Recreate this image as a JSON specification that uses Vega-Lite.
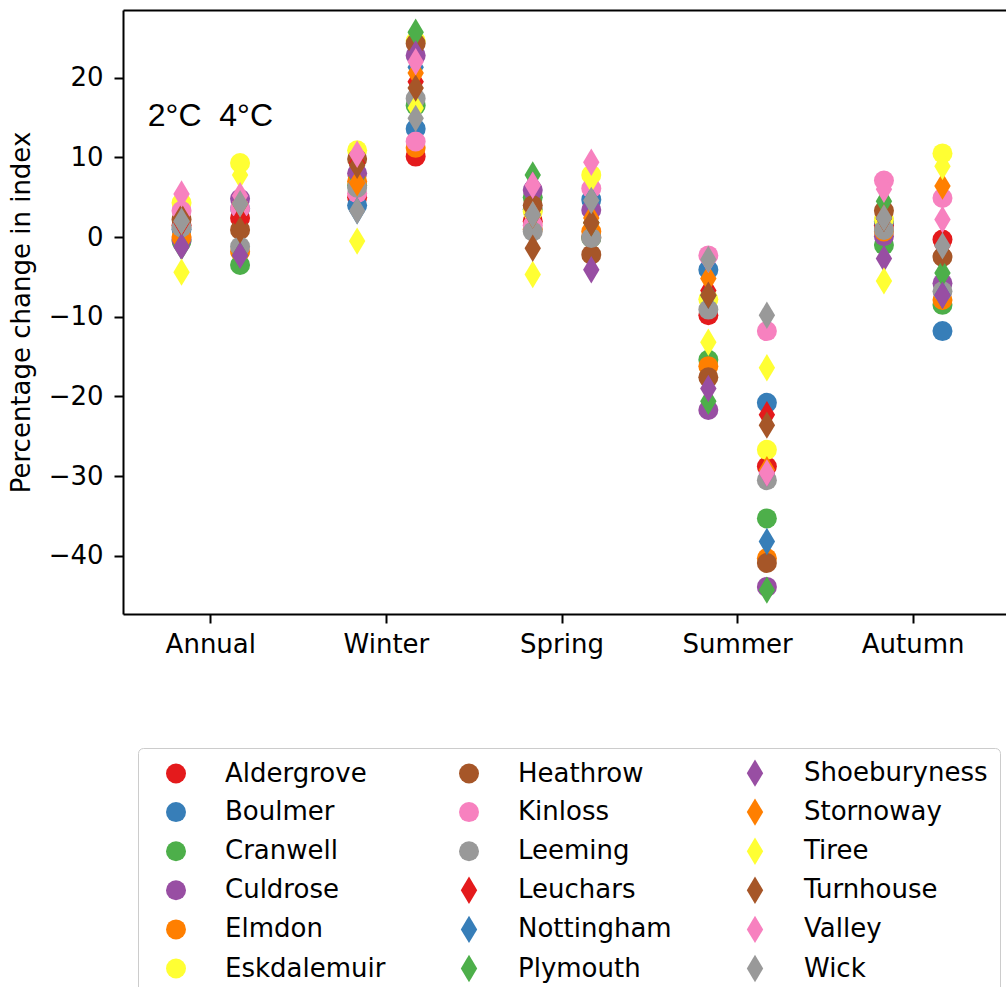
{
  "$schema": "https://vega.github.io/schema/vega-lite/v6.json",
  "width": 883,
  "height": 604,
  "autosize": {"type": "none"},
  "padding": {"left": 123, "top": 10, "right": 0, "bottom": 373},
  "background": "white",
  "config": {
    "view": {"stroke": null},
    "font": "DejaVu Sans",
    "axis": {
      "grid": false,
      "domainColor": "black",
      "domainWidth": 2,
      "tickColor": "black",
      "tickWidth": 2,
      "tickSize": 9,
      "labelFont": "DejaVu Sans",
      "labelFontSize": 26,
      "labelColor": "black",
      "titleFont": "DejaVu Sans",
      "titleFontSize": 26,
      "titleFontWeight": "normal",
      "titleColor": "black"
    }
  },
  "layer": [
    {
      "data": {
        "values": [
          {"st": "Aldergrove", "se": "Annual", "2°C": 1.5, "4°C": 2.4},
          {"st": "Aldergrove", "se": "Winter", "2°C": 5.0, "4°C": 10.1},
          {"st": "Aldergrove", "se": "Spring", "2°C": 2.0, "4°C": 0.0},
          {"st": "Aldergrove", "se": "Summer", "2°C": -9.8, "4°C": -28.8},
          {"st": "Aldergrove", "se": "Autumn", "2°C": 1.5, "4°C": -0.3},
          {"st": "Boulmer", "se": "Annual", "2°C": 1.0, "4°C": 3.6},
          {"st": "Boulmer", "se": "Winter", "2°C": 4.0, "4°C": 13.6},
          {"st": "Boulmer", "se": "Spring", "2°C": 3.5, "4°C": 4.7},
          {"st": "Boulmer", "se": "Summer", "2°C": -4.1, "4°C": -20.8},
          {"st": "Boulmer", "se": "Autumn", "2°C": 2.0, "4°C": -11.8},
          {"st": "Cranwell", "se": "Annual", "2°C": -0.5, "4°C": -3.5},
          {"st": "Cranwell", "se": "Winter", "2°C": 6.5, "4°C": 16.5},
          {"st": "Cranwell", "se": "Spring", "2°C": 5.0, "4°C": -0.1},
          {"st": "Cranwell", "se": "Summer", "2°C": -15.4, "4°C": -35.3},
          {"st": "Cranwell", "se": "Autumn", "2°C": -1.0, "4°C": -8.5},
          {"st": "Culdrose", "se": "Annual", "2°C": -0.3, "4°C": 4.8},
          {"st": "Culdrose", "se": "Winter", "2°C": 8.0, "4°C": 22.8},
          {"st": "Culdrose", "se": "Spring", "2°C": 5.9, "4°C": 3.4},
          {"st": "Culdrose", "se": "Summer", "2°C": -21.7, "4°C": -43.9},
          {"st": "Culdrose", "se": "Autumn", "2°C": 0.1, "4°C": -5.8},
          {"st": "Elmdon", "se": "Annual", "2°C": 0.0, "4°C": -1.8},
          {"st": "Elmdon", "se": "Winter", "2°C": 7.0, "4°C": 11.2},
          {"st": "Elmdon", "se": "Spring", "2°C": 1.0, "4°C": 0.7},
          {"st": "Elmdon", "se": "Summer", "2°C": -16.2, "4°C": -40.3},
          {"st": "Elmdon", "se": "Autumn", "2°C": 0.7, "4°C": -7.9},
          {"st": "Eskdalemuir", "se": "Annual", "2°C": 4.3, "4°C": 9.3},
          {"st": "Eskdalemuir", "se": "Winter", "2°C": 10.9, "4°C": 24.6},
          {"st": "Eskdalemuir", "se": "Spring", "2°C": 3.2, "4°C": 7.8},
          {"st": "Eskdalemuir", "se": "Summer", "2°C": -7.8, "4°C": -26.7},
          {"st": "Eskdalemuir", "se": "Autumn", "2°C": 2.2, "4°C": 10.5},
          {"st": "Heathrow", "se": "Annual", "2°C": 2.2, "4°C": 0.9},
          {"st": "Heathrow", "se": "Winter", "2°C": 9.8, "4°C": 24.3},
          {"st": "Heathrow", "se": "Spring", "2°C": 4.0, "4°C": -2.2},
          {"st": "Heathrow", "se": "Summer", "2°C": -17.6, "4°C": -40.9},
          {"st": "Heathrow", "se": "Autumn", "2°C": 3.3, "4°C": -2.5},
          {"st": "Kinloss", "se": "Annual", "2°C": 3.3, "4°C": 3.6},
          {"st": "Kinloss", "se": "Winter", "2°C": 5.5, "4°C": 12.0},
          {"st": "Kinloss", "se": "Spring", "2°C": 1.5, "4°C": 6.1},
          {"st": "Kinloss", "se": "Summer", "2°C": -2.3, "4°C": -11.8},
          {"st": "Kinloss", "se": "Autumn", "2°C": 7.1, "4°C": 4.9},
          {"st": "Leeming", "se": "Annual", "2°C": 1.2, "4°C": -1.2},
          {"st": "Leeming", "se": "Winter", "2°C": 6.2, "4°C": 17.4},
          {"st": "Leeming", "se": "Spring", "2°C": 0.7, "4°C": -0.1},
          {"st": "Leeming", "se": "Summer", "2°C": -9.1, "4°C": -30.5},
          {"st": "Leeming", "se": "Autumn", "2°C": 0.9, "4°C": -6.8},
          {"st": "Leuchars", "se": "Annual", "2°C": 1.8, "4°C": 2.2},
          {"st": "Leuchars", "se": "Winter", "2°C": 9.3, "4°C": 19.5},
          {"st": "Leuchars", "se": "Spring", "2°C": 2.8, "4°C": 1.8},
          {"st": "Leuchars", "se": "Summer", "2°C": -6.7, "4°C": -22.3},
          {"st": "Leuchars", "se": "Autumn", "2°C": 2.4, "4°C": -1.1},
          {"st": "Nottingham", "se": "Annual", "2°C": 2.0, "4°C": 4.2},
          {"st": "Nottingham", "se": "Winter", "2°C": 3.3, "4°C": 21.3},
          {"st": "Nottingham", "se": "Spring", "2°C": 2.8, "4°C": 4.6},
          {"st": "Nottingham", "se": "Summer", "2°C": -7.3, "4°C": -38.2},
          {"st": "Nottingham", "se": "Autumn", "2°C": 2.4, "4°C": -7.3},
          {"st": "Plymouth", "se": "Annual", "2°C": -1.2, "4°C": -2.3},
          {"st": "Plymouth", "se": "Winter", "2°C": 7.5, "4°C": 25.7},
          {"st": "Plymouth", "se": "Spring", "2°C": 7.8, "4°C": 1.8},
          {"st": "Plymouth", "se": "Summer", "2°C": -20.6, "4°C": -44.3},
          {"st": "Plymouth", "se": "Autumn", "2°C": 4.5, "4°C": -4.5},
          {"st": "Shoeburyness", "se": "Annual", "2°C": -1.2, "4°C": -2.3},
          {"st": "Shoeburyness", "se": "Winter", "2°C": 7.7, "4°C": 23.0},
          {"st": "Shoeburyness", "se": "Spring", "2°C": 6.5, "4°C": -4.1},
          {"st": "Shoeburyness", "se": "Summer", "2°C": -19.0, "4°C": -29.6},
          {"st": "Shoeburyness", "se": "Autumn", "2°C": -2.7, "4°C": -7.3},
          {"st": "Stornoway", "se": "Annual", "2°C": 2.0, "4°C": 4.2},
          {"st": "Stornoway", "se": "Winter", "2°C": 6.8, "4°C": 20.6},
          {"st": "Stornoway", "se": "Spring", "2°C": 2.8, "4°C": 2.4},
          {"st": "Stornoway", "se": "Summer", "2°C": -5.2, "4°C": -29.2},
          {"st": "Stornoway", "se": "Autumn", "2°C": 2.4, "4°C": 6.4},
          {"st": "Tiree", "se": "Annual", "2°C": -4.4, "4°C": 7.8},
          {"st": "Tiree", "se": "Winter", "2°C": -0.5, "4°C": 16.2},
          {"st": "Tiree", "se": "Spring", "2°C": -4.7, "4°C": 7.3},
          {"st": "Tiree", "se": "Summer", "2°C": -13.2, "4°C": -16.4},
          {"st": "Tiree", "se": "Autumn", "2°C": -5.5, "4°C": 8.9},
          {"st": "Turnhouse", "se": "Annual", "2°C": 2.5, "4°C": 0.9},
          {"st": "Turnhouse", "se": "Winter", "2°C": 9.0, "4°C": 18.7},
          {"st": "Turnhouse", "se": "Spring", "2°C": -1.4, "4°C": 1.8},
          {"st": "Turnhouse", "se": "Summer", "2°C": -7.3, "4°C": -23.6},
          {"st": "Turnhouse", "se": "Autumn", "2°C": 2.4, "4°C": -2.0},
          {"st": "Valley", "se": "Annual", "2°C": 5.4, "4°C": 5.2},
          {"st": "Valley", "se": "Winter", "2°C": 10.4, "4°C": 22.0},
          {"st": "Valley", "se": "Spring", "2°C": 6.5, "4°C": 9.4},
          {"st": "Valley", "se": "Summer", "2°C": -2.8, "4°C": -29.6},
          {"st": "Valley", "se": "Autumn", "2°C": 6.0, "4°C": 2.2},
          {"st": "Wick", "se": "Annual", "2°C": 2.0, "4°C": 4.2},
          {"st": "Wick", "se": "Winter", "2°C": 3.3, "4°C": 14.9},
          {"st": "Wick", "se": "Spring", "2°C": 2.8, "4°C": 4.6},
          {"st": "Wick", "se": "Summer", "2°C": -2.8, "4°C": -9.8},
          {"st": "Wick", "se": "Autumn", "2°C": 2.4, "4°C": -1.1}
        ]
      },
      "transform": [{"fold": ["2°C", "4°C"], "as": ["w", "v"]}],
      "mark": {"type": "point", "filled": true, "opacity": 1, "size": 400, "strokeWidth": 0},
      "encoding": {
        "x": {
          "field": "se",
          "type": "nominal",
          "sort": ["Annual", "Winter", "Spring", "Summer", "Autumn"],
          "scale": {"paddingInner": 0, "paddingOuter": 0.0142, "align": 0},
          "axis": {"title": null, "labelAngle": 0, "labelPadding": 8}
        },
        "xOffset": {
          "field": "w",
          "type": "nominal",
          "sort": ["2°C", "4°C"],
          "scale": {"type": "point", "padding": 1.157}
        },
        "y": {
          "field": "v",
          "type": "quantitative",
          "scale": {"domain": [-47.3, 28.5], "nice": false, "zero": false},
          "axis": {
            "values": [-40, -30, -20, -10, 0, 10, 20],
            "title": "Percentage change in index",
            "labelExpr": "replace(datum.label, '-', '−')",
            "labelPadding": 11,
            "titlePadding": 14
          }
        },
        "color": {
          "field": "st",
          "type": "nominal",
          "scale": {
            "domain": ["Aldergrove", "Boulmer", "Cranwell", "Culdrose", "Elmdon", "Eskdalemuir", "Heathrow", "Kinloss", "Leeming", "Leuchars", "Nottingham", "Plymouth", "Shoeburyness", "Stornoway", "Tiree", "Turnhouse", "Valley", "Wick"],
            "range": ["#e41a1c", "#377eb8", "#4daf4a", "#984ea3", "#ff7f00", "#ffff33", "#a65628", "#f781bf", "#999999", "#e41a1c", "#377eb8", "#4daf4a", "#984ea3", "#ff7f00", "#ffff33", "#a65628", "#f781bf", "#999999"]
          },
          "legend": {
            "title": null,
            "orient": "none",
            "legendX": 15,
            "legendY": 738,
            "columns": 3,
            "padding": 12,
            "strokeColor": "#cccccc",
            "fillColor": "white",
            "cornerRadius": 5,
            "labelFont": "DejaVu Sans",
            "labelFontSize": 26,
            "labelColor": "black",
            "labelLimit": 400,
            "symbolSize": 400,
            "symbolStrokeWidth": 0,
            "symbolOpacity": 1,
            "labelOffset": 36,
            "columnPadding": 57,
            "rowPadding": 11.1,
            "symbolOffset": 13
          }
        },
        "shape": {
          "field": "st",
          "type": "nominal",
          "scale": {
            "domain": ["Aldergrove", "Boulmer", "Cranwell", "Culdrose", "Elmdon", "Eskdalemuir", "Heathrow", "Kinloss", "Leeming", "Leuchars", "Nottingham", "Plymouth", "Shoeburyness", "Stornoway", "Tiree", "Turnhouse", "Valley", "Wick"],
            "range": ["circle", "circle", "circle", "circle", "circle", "circle", "circle", "circle", "circle", "M0,-1.37L0.82,0L0,1.37L-0.82,0Z", "M0,-1.37L0.82,0L0,1.37L-0.82,0Z", "M0,-1.37L0.82,0L0,1.37L-0.82,0Z", "M0,-1.37L0.82,0L0,1.37L-0.82,0Z", "M0,-1.37L0.82,0L0,1.37L-0.82,0Z", "M0,-1.37L0.82,0L0,1.37L-0.82,0Z", "M0,-1.37L0.82,0L0,1.37L-0.82,0Z", "M0,-1.37L0.82,0L0,1.37L-0.82,0Z", "M0,-1.37L0.82,0L0,1.37L-0.82,0Z"]
          },
          "legend": {
            "title": null,
            "orient": "none",
            "legendX": 15,
            "legendY": 738,
            "columns": 3,
            "padding": 12,
            "strokeColor": "#cccccc",
            "fillColor": "white",
            "cornerRadius": 5,
            "labelFont": "DejaVu Sans",
            "labelFontSize": 26,
            "labelColor": "black",
            "labelLimit": 400,
            "symbolSize": 400,
            "symbolStrokeWidth": 0,
            "symbolOpacity": 1,
            "labelOffset": 36,
            "columnPadding": 57,
            "rowPadding": 11.1,
            "symbolOffset": 13
          }
        }
      }
    },
    {
      "data": {"values": [{}]},
      "mark": {"type": "text", "text": "2°C\u00a0\u00a04°C", "font": "Liberation Sans", "fontSize": 32, "align": "left", "baseline": "alphabetic", "dx": -63, "color": "black"},
      "encoding": {
        "x": {
          "datum": "Annual",
          "type": "nominal",
          "axis": {"orient": "top", "labels": false, "ticks": false, "domain": true, "title": null}
        },
        "y": {
          "datum": 14,
          "type": "quantitative",
          "axis": {
            "values": [-40, -30, -20, -10, 0, 10, 20],
            "title": "Percentage change in index",
            "labelExpr": "replace(datum.label, '-', '−')",
            "labelPadding": 11,
            "titlePadding": 14
          }
        }
      }
    }
  ],
  "resolve": {"axis": {"x": "independent"}}
}
